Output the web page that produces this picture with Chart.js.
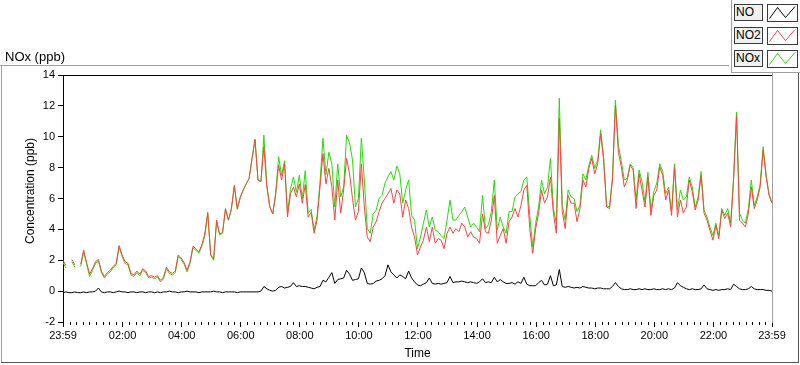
<!DOCTYPE html>
<html>
<head>
<meta charset="utf-8">
<title>NOx (ppb)</title>
<script src="https://cdn.jsdelivr.net/npm/chart.js@4.4.0/dist/chart.umd.min.js"></script>
<style>
  html, body { margin: 0; padding: 0; background: #fff; }
  #wrap { position: relative; width: 800px; height: 365px; overflow: hidden;
          font-family: "Liberation Sans", Arial, sans-serif; color: #000; }
  #chart { position: absolute; left: 0; top: 0; }
  .ln { position: absolute; }
  .unit { position: absolute; left: 5px; top: 49px; font-size: 13px; line-height: 16px; }
  .lg-name { position: absolute; left: 734px; width: 26px; height: 15px; padding-left: 1px;
             border: 1px solid #3a3a3a; background: #f0f0f0; font-size: 12px; line-height: 15px; }
  .lg-line { position: absolute; left: 767px; width: 29px; height: 16px;
             border: 1px solid #3a3a3a; background: #fff; }
  .lg-line svg { position: absolute; left: 0; top: 0; }
</style>
</head>
<body>
<div id="wrap">
  <canvas id="chart" width="800" height="365"></canvas>

  <!-- outer frame -->
  <div class="ln" style="left:0;top:65px;width:729px;height:1px;background:#a0a0a0"></div>
  <div class="ln" style="left:1px;top:65px;width:1px;height:298px;background:#a0a0a0"></div>
  <div class="ln" style="left:1px;top:362px;width:798px;height:1px;background:#555"></div>
  <div class="ln" style="left:798px;top:72px;width:1px;height:291px;background:#555"></div>
  <div class="ln" style="left:731px;top:0;width:1px;height:72px;background:#a0a0a0"></div>
  <div class="ln" style="left:731px;top:72px;width:69px;height:1px;background:#a0a0a0"></div>

  <div class="unit">NOx (ppb)</div>
  <div id="legend"></div>
</div>

<script>
// Ejes
const xTickHours = [-1 / 60, 2, 4, 6, 8, 10, 12, 14, 16, 18, 20, 22, 24 - 1 / 60];
const xTickLabels = ['23:59', '02:00', '04:00', '06:00', '08:00', '10:00', '12:00',
                     '14:00', '16:00', '18:00', '20:00', '22:00', '23:59'];
const yMin = -2, yMax = 14, yStep = 2;
const xTitle = 'Time';
const yTitle = 'Concentration (ppb)';

// Lecturas cada 6 minutos desde las 23:59
const startHour = -1 / 60;
const stepHours = 0.1;

const no = [
  -0.1, -0.05, -0.1, -0.1, -0.05, -0.1, -0.1, -0.05, -0.1, -0.05,
  -0.05, 0.0, 0.2, -0.05, -0.1, -0.05, -0.05, -0.1, -0.05, 0.0,
  -0.05, -0.05, -0.1, -0.05, -0.05, -0.1, -0.05, -0.05, -0.1, -0.05,
  -0.05, -0.1, -0.05, -0.1, -0.05, -0.05, 0.0, -0.05, -0.05, -0.1,
  -0.05, -0.05, 0.0, -0.05, -0.05, -0.05, -0.1, -0.05,
  -0.05, -0.05, -0.05, 0.0, -0.05, -0.05, -0.1, -0.05, -0.05, -0.05,
  -0.05, -0.1, -0.05, -0.05, -0.05, -0.05, -0.05, -0.05, -0.05, 0.0,
  0.3, 0.15, 0.05, 0.0, 0.05, 0.25, 0.3, 0.2, 0.25, 0.3,
  0.55, 0.3, 0.35, 0.3, 0.3, 0.25, 0.2, 0.15, 0.25, 0.3,
  0.7, 0.6, 0.9, 1.2, 0.5, 0.75, 0.8, 0.85,
  1.35, 1.1, 0.7, 0.75, 0.8, 1.5, 1.2, 0.5, 0.45, 0.5,
  0.65, 0.7, 0.8, 1.0, 1.7, 1.25, 1.05, 0.85, 1.05, 0.95,
  0.8, 1.3, 0.85, 0.6, 0.4, 0.35, 0.45, 0.55, 0.85, 0.5,
  0.45, 0.5, 0.45, 0.5, 0.55, 0.95, 0.55, 0.6, 0.6, 0.65,
  0.6, 0.55, 0.6, 0.55, 0.5, 0.6, 0.8, 0.55,
  0.6, 0.55, 0.9, 0.6, 0.75, 0.6, 0.5, 0.5, 0.55, 0.45,
  0.6, 0.5, 0.9, 0.45, 0.35, 0.35, 0.35, 0.55, 0.7, 0.4,
  0.45, 1.0, 0.35, 0.4, 1.4, 0.3, 0.25, 0.3, 0.25, 0.2,
  0.25, 0.2, 0.3, 0.25, 0.2, 0.2, 0.15, 0.2, 0.2, 0.15,
  0.15, 0.15, 0.3, 0.55, 0.3, 0.15, 0.1, 0.1,
  0.15, 0.1, 0.1, 0.15, 0.1, 0.15, 0.1, 0.1, 0.15, 0.1,
  0.1, 0.15, 0.1, 0.15, 0.1, 0.2, 0.55, 0.35, 0.25, 0.15,
  0.1, 0.15, 0.1, 0.1, 0.15, 0.4, 0.15, 0.1, 0.05, 0.1,
  0.05, 0.1, 0.1, 0.15, 0.1, 0.45, 0.3, 0.15, 0.1, 0.1,
  0.15, 0.3, 0.15, 0.1, 0.1, 0.1, 0.05, 0.05, 0.0
];

const no2 = [
  2.0, 1.65, null, 2.05, 1.7, null, 1.75, 2.65, 1.85, 1.1,
  1.45, 1.9, 2.05, 1.3, 0.95, 1.2, 1.35, 1.6, 1.8, 2.95,
  2.35, 1.9, 1.8, 1.15, 1.05, 1.3, 1.1, 1.45, 1.3, 0.95,
  1.0, 0.9, 1.0, 0.7, 0.9, 1.55, 1.25, 1.15, 1.3, 2.35,
  2.15, 1.85, 1.35, 1.9, 2.9, 2.75, 2.55, 3.0,
  3.7, 5.1, 2.35, 2.1, 4.6, 3.7, 3.8, 5.35, 4.6, 5.35,
  6.85, 5.35, 6.1, 6.55, 6.95, 7.3, 8.6, 9.8, 7.2, 7.1,
  9.35, 6.75, 5.45, 5.0, 6.3, 8.15, 7.2, 8.25, 4.8, 6.3,
  6.75, 6.1, 6.95, 5.7, 6.9, 4.8, 5.1, 3.75, 4.6, 6.75,
  8.9, 6.95, 7.95, 6.75, 4.6, 7.2, 5.05, 6.55,
  8.6, 7.6, 6.0, 4.6, 5.15, 8.25, 5.45, 3.5, 3.2, 4.15,
  4.5, 5.15, 5.7, 6.0, 6.3, 6.65, 5.7, 6.55, 6.3, 4.8,
  5.9, 5.35, 4.15, 3.5, 2.35, 2.85, 3.3, 4.15, 3.2, 4.15,
  3.1, 3.4, 3.3, 2.75, 3.75, 4.15, 3.75, 4.05, 3.85, 4.4,
  4.15, 3.5, 3.85, 3.5, 3.4, 3.1, 5.0, 3.85,
  3.75, 4.6, 6.2, 3.1, 3.6, 4.05, 3.1, 4.5, 4.8, 5.35,
  4.8, 5.55, 6.55, 6.85, 4.05, 2.45, 4.05, 5.05, 6.55, 5.7,
  6.1, 7.4, 5.05, 3.75, 11.2, 5.15, 4.05, 6.2, 5.7, 5.7,
  4.5, 5.35, 7.2, 6.75, 7.95, 8.6, 7.6, 8.25, 10.2, 8.5,
  5.45, 5.35, 7.2, 12.05, 9.0, 8.05, 6.75, 7.2,
  8.15, 7.85, 5.35, 7.6, 6.55, 5.45, 7.4, 4.9, 6.2, 6.55,
  8.05, 7.5, 5.9, 6.55, 4.9, 8.05, 4.8, 5.9, 5.05, 5.45,
  7.2, 6.45, 5.25, 5.9, 7.5, 5.05, 4.6, 3.95, 3.3, 4.25,
  3.4, 5.25, 4.7, 5.05, 4.15, 7.2, 11.4, 4.6, 4.4, 4.15,
  5.05, 6.75, 5.35, 5.9, 6.75, 9.15, 7.4, 6.2, 5.7
];

const nox = [
  1.85, 1.5, null, 1.9, 1.55, null, 1.6, 2.55, 1.75, 0.95,
  1.35, 1.8, 1.95, 1.2, 0.85, 1.1, 1.25, 1.5, 1.7, 2.85,
  2.25, 1.8, 1.7, 1.05, 0.95, 1.2, 1.0, 1.35, 1.2, 0.85,
  0.9, 0.8, 0.9, 0.6, 0.8, 1.45, 1.15, 1.05, 1.2, 2.25,
  2.05, 1.75, 1.25, 1.8, 2.8, 2.65, 2.45, 2.9,
  3.6, 5.0, 2.3, 2.0, 4.55, 3.65, 3.75, 5.3, 4.6, 5.3,
  6.8, 5.3, 6.05, 6.55, 6.95, 7.3, 8.6, 9.85, 7.2, 7.1,
  10.1, 6.9, 5.5, 5.0, 6.35, 8.7, 7.5, 8.45, 5.05, 6.6,
  7.4, 6.4, 7.5, 6.0, 7.8, 5.05, 5.3, 3.95, 4.85, 7.05,
  9.9, 7.55, 9.0, 8.25, 5.45, 8.25, 6.1, 6.75,
  10.1, 9.6, 8.5, 5.45, 6.0, 9.9, 7.2, 4.05, 3.75, 5.0,
  5.25, 6.0, 6.2, 7.0, 7.4, 7.75, 7.2, 8.1, 7.6, 5.7,
  6.55, 7.2, 4.9, 4.6, 2.75, 3.5, 4.4, 5.25, 4.15, 4.8,
  3.95, 3.85, 3.6, 3.4, 4.6, 5.9, 4.6, 4.6, 4.9, 5.15,
  5.45, 4.8, 4.15, 4.4, 4.15, 3.85, 6.2, 4.05,
  4.3, 5.15, 7.2, 3.95, 4.8, 4.15, 3.75, 5.15, 5.15, 6.1,
  6.3, 6.45, 7.2, 7.4, 4.9, 2.85, 4.4, 5.45, 7.2, 6.3,
  6.75, 8.6, 5.35, 4.4, 12.5, 5.55, 4.6, 6.55, 6.1, 6.0,
  5.15, 5.55, 7.6, 7.2, 8.15, 8.8, 7.95, 8.5, 10.45, 8.7,
  5.55, 5.45, 7.4, 12.37, 9.45, 8.4, 7.2, 7.3,
  8.25, 8.0, 5.9, 7.85, 7.1, 5.8, 7.7, 5.25, 6.45, 7.0,
  8.25, 7.75, 6.3, 6.75, 5.15, 8.25, 5.25, 6.55, 5.9, 6.1,
  7.4, 6.75, 5.45, 6.1, 7.75, 5.25, 4.8, 4.15, 3.6, 4.4,
  3.6, 5.35, 4.9, 5.35, 4.4, 7.4, 11.6, 5.05, 4.6, 4.4,
  5.35, 7.2, 5.55, 6.1, 6.95, 9.35, 7.6, 6.3, 5.7
];

const seriesNames = ['NO', 'NO2', 'NOx'];
const seriesColors = ['#000000', '#ff4040', '#1fe000'];

const toPoints = arr => arr.map((v, i) => ({ x: startHour + i * stepHours, y: v }));

// Leyenda (cuadros a la derecha, arriba)
const legendRows = [4, 27, 50];
const legend = document.getElementById('legend');
seriesNames.forEach((name, i) => {
  const top = legendRows[i];
  legend.insertAdjacentHTML('beforeend',
    '<div class="lg-name" style="top:' + top + 'px">' + name + '</div>' +
    '<div class="lg-line" style="top:' + top + 'px">' +
    '<svg width="29" height="16"><polyline points="1.5,13.5 9.5,2.5 17.5,12.5 27,1.5" fill="none" stroke="' +
    seriesColors[i] + '" stroke-width="1"/></svg></div>');
});

// Bordes, marcas menores y títulos de los ejes
const frameTicks = {
  id: 'frameTicks',
  afterDraw(chart) {
    const { ctx, chartArea: a, scales: { x } } = chart;
    ctx.save();
    ctx.lineWidth = 1;
    ctx.strokeStyle = '#000';
    ctx.beginPath();
    ctx.moveTo(a.left - 1, a.top + 0.5);
    ctx.lineTo(a.right, a.top + 0.5);
    ctx.stroke();

    ctx.strokeStyle = '#a0a0a0';
    ctx.beginPath();
    ctx.moveTo(a.right + 0.5, 72);
    ctx.lineTo(a.right + 0.5, a.bottom + 1);
    ctx.stroke();

    ctx.strokeStyle = '#000';
    ctx.beginPath();
    for (let k = 0; k < xTickHours.length - 1; k++) {
      const h0 = xTickHours[k], h1 = xTickHours[k + 1];
      for (let m = 1; m < 9; m++) {
        const px = Math.round(x.getPixelForValue(h0 + (h1 - h0) * m / 9)) + 0.5;
        ctx.moveTo(px, a.bottom);
        ctx.lineTo(px, a.bottom + 3);
      }
    }
    ctx.stroke();

    ctx.fillStyle = '#000';
    ctx.font = '12px "Liberation Sans", Arial, sans-serif';
    ctx.textAlign = 'center';
    ctx.textBaseline = 'middle';
    ctx.fillText(xTitle, (a.left + a.right) / 2, 354);
    ctx.translate(31, 191);
    ctx.rotate(-Math.PI / 2);
    ctx.fillText(yTitle, 0, 0);
    ctx.restore();
  }
};

Chart.defaults.font.family = '"Liberation Sans", Arial, sans-serif';
Chart.defaults.font.size = 11;
Chart.defaults.color = '#000';

new Chart(document.getElementById('chart'), {
  type: 'line',
  data: {
    datasets: [
      { label: seriesNames[0], data: toPoints(no), borderColor: seriesColors[0] },
      { label: seriesNames[1], data: toPoints(no2), borderColor: seriesColors[1] },
      { label: seriesNames[2], data: toPoints(nox), borderColor: seriesColors[2] }
    ]
  },
  options: {
    responsive: false,
    animation: false,
    events: [],
    layout: { padding: { top: 75, right: 28, left: 0, bottom: 0 } },
    elements: {
      line: { borderWidth: 1, tension: 0, borderJoinStyle: 'round', fill: false },
      point: { radius: 0 }
    },
    spanGaps: false,
    plugins: { legend: { display: false }, tooltip: { enabled: false } },
    scales: {
      x: {
        type: 'linear',
        min: xTickHours[0],
        max: xTickHours[xTickHours.length - 1],
        afterBuildTicks: s => { s.ticks = xTickHours.map(v => ({ value: v })); },
        afterFit: s => { s.height = 43; },
        ticks: {
          autoSkip: false, maxRotation: 0, padding: 2,
          callback: (v, i) => xTickLabels[i]
        },
        grid: { drawOnChartArea: false, drawTicks: true, tickLength: 5, color: '#000' },
        border: { display: false }
      },
      y: {
        min: yMin,
        max: yMax,
        afterFit: s => { s.width = 63; },
        ticks: { stepSize: yStep, padding: 3 },
        grid: { drawOnChartArea: false, drawTicks: true, tickLength: 5, color: '#000' },
        border: { display: true, color: '#000', width: 1 }
      }
    }
  },
  plugins: [frameTicks]
});
</script>
</body>
</html>
